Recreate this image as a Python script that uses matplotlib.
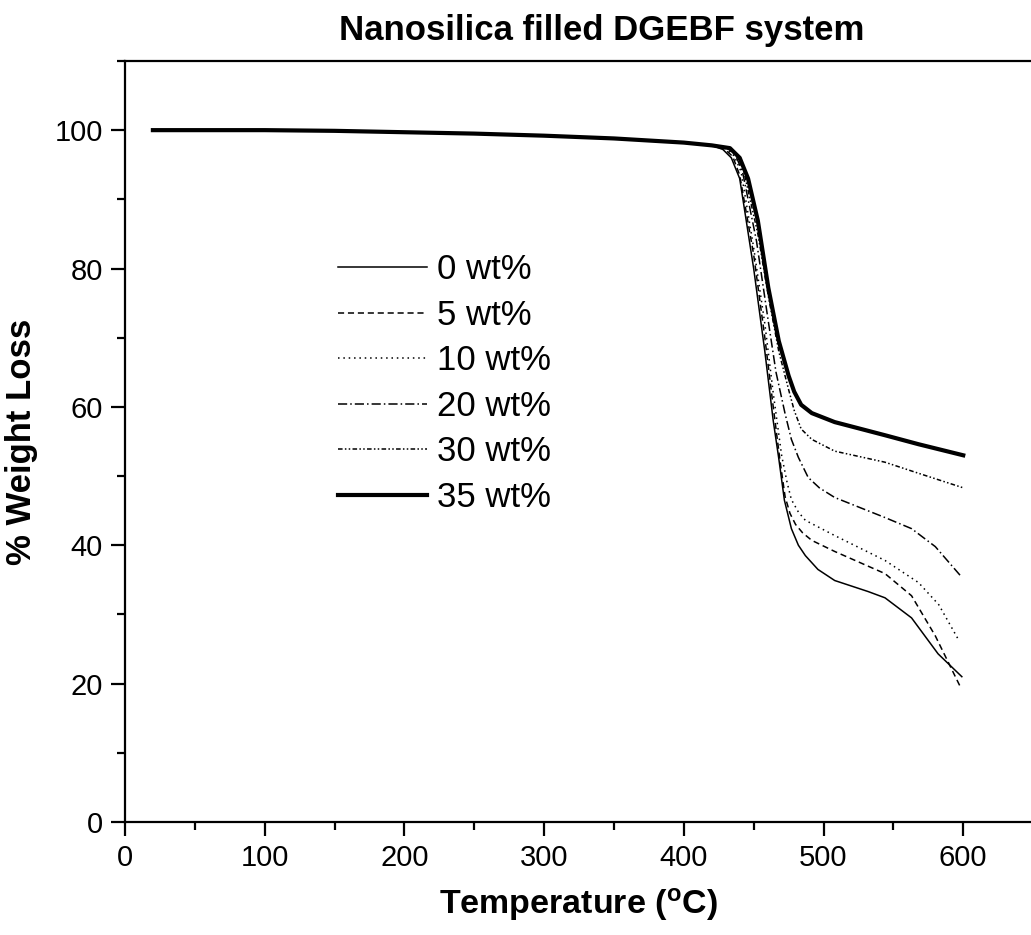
import matplotlib
matplotlib.use('Agg')
import matplotlib.pyplot as plt
from matplotlib.ticker import MultipleLocator

plt.rcParams['font.family'] = ['Liberation Sans', 'DejaVu Sans']

# common plateau (all curves overlap here)
t_flat = [20, 100, 150, 200, 250, 300, 350, 400, 420]
w_flat = [100.0, 100.0, 99.9, 99.7, 99.5, 99.2, 98.8, 98.2, 97.8]

t_0 = [428, 434, 440, 450, 458, 464, 468, 472, 477, 482, 487, 496, 508, 532, 544, 563, 582, 599]
w_0 = [97.2, 96.0, 93.0, 80.0, 68.0, 58.0, 52.5, 46.5, 42.4, 40.0, 38.5, 36.5, 34.9, 33.3, 32.4, 29.5, 24.3, 21.0]

t_5 = [429, 435, 440, 450, 458, 464, 469, 472.5, 476, 480, 485, 491.6, 508, 544, 563, 580, 598]
w_5 = [97.3, 96.2, 93.5, 82.0, 70.0, 60.0, 52.0, 47.0, 44.6, 43.0, 41.8, 40.7, 39.1, 35.9, 32.7, 26.9, 19.5]

t_10 = [430, 436, 441, 450, 458, 464, 470, 474, 477, 482, 487, 508, 544, 568, 582.5, 597]
w_10 = [97.3, 96.3, 94.0, 83.0, 72.0, 62.0, 53.0, 49.0, 46.6, 44.8, 43.6, 41.4, 37.8, 34.6, 31.4, 26.2]

t_20 = [431, 437, 442, 452, 460, 466, 472.5, 477, 482, 489, 497, 508, 544, 563, 580, 598]
w_20 = [97.4, 96.4, 94.0, 84.0, 73.0, 65.0, 59.0, 55.3, 52.7, 49.8, 48.3, 46.9, 44.0, 42.4, 39.8, 35.6]

t_30 = [432, 438, 443, 453, 460.5, 468, 475, 479, 484, 491.6, 508, 544, 568, 600]
w_30 = [97.4, 96.5, 94.0, 85.0, 76.0, 68.0, 62.5, 59.5, 56.8, 55.3, 53.6, 52.0, 50.4, 48.3]

t_35 = [433, 440, 446, 453, 460.5, 468, 475, 479, 484, 491.6, 508, 544, 568, 600]
w_35 = [97.4, 96.0, 93.0, 86.9, 77.2, 69.5, 64.5, 62.2, 60.3, 59.1, 57.8, 55.9, 54.6, 53.0]

labels = ['0 wt%', '5 wt%', '10 wt%', '20 wt%', '30 wt%', '35 wt%']

fig = plt.figure(figsize=(10.31, 9.35), dpi=100)
ax = fig.add_axes([0.1212, 0.1209, 0.8788, 0.8139])

series = [(t_0, w_0), (t_5, w_5), (t_10, w_10), (t_20, w_20), (t_30, w_30), (t_35, w_35)]
styles = [
    dict(lw=1.1, ls='-'),
    dict(lw=1.1, ls=(0, (4, 2.5))),
    dict(lw=1.1, ls=(0, (1, 2.5))),
    dict(lw=1.1, ls=(0, (6, 2, 1, 2))),
    dict(lw=1.1, ls=(0, (3, 1.5, 1, 1.5, 1, 1.5))),
    dict(lw=3.0, ls='-'),
]
for (t, w), st, lab in zip(series, styles, labels):
    ax.plot(t_flat + t, w_flat + w, color='black', label=lab, **st)

ax.set_xlim(0, 648.5)
ax.set_ylim(0, 110)
ax.xaxis.set_major_locator(MultipleLocator(100))
ax.xaxis.set_minor_locator(MultipleLocator(50))
ax.yaxis.set_major_locator(MultipleLocator(20))
ax.yaxis.set_minor_locator(MultipleLocator(10))
ax.tick_params(which='both', direction='out', width=1.6, top=False, right=False)
ax.tick_params(which='major', length=10, labelsize=21, pad=6)
ax.tick_params(which='minor', length=6)
for s in ['left', 'bottom', 'top']:
    ax.spines[s].set_linewidth(1.6)
ax.spines['right'].set_visible(False)

ax.set_xlabel('Temperature ($\\mathregular{^{o}}$C)', fontsize=24.5, fontweight='bold', labelpad=10)
ax.set_ylabel('% Weight Loss', fontsize=25, fontweight='bold', labelpad=12)
fig.text(0.584, 0.967, 'Nanosilica filled DGEBF system', fontsize=25,
         fontweight='bold', ha='center', va='center')

ax.legend(loc='upper left', bbox_to_anchor=(0.328, 0.729), bbox_transform=fig.transFigure,
          frameon=False, fontsize=25, handlelength=2.56, handletextpad=0.29,
          labelspacing=0.36, borderpad=0, borderaxespad=0)

plt.savefig('out.png', dpi=100)
plt.close()
